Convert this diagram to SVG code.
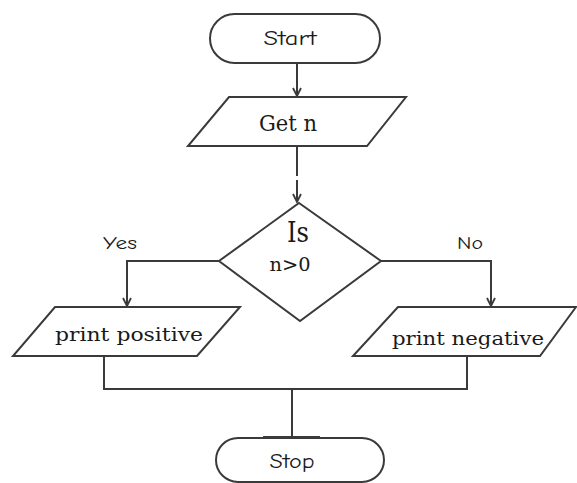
<svg xmlns="http://www.w3.org/2000/svg" width="577" height="483" viewBox="0 0 577 483">
  <style>
    .shape { fill: #ffffff; stroke: #3a3a3a; stroke-width: 2; }
    .wire { fill: none; stroke: #3a3a3a; stroke-width: 2; }
    .hand { font-family: "Comic Neue", "DejaVu Sans", "Noto Sans", sans-serif; fill: #1a1a1a; text-anchor: middle; }
    .book { font-family: "DejaVu Serif", "Liberation Serif", serif; fill: #1a1a1a; text-anchor: middle; }
  </style>
  <defs>
    <marker id="arrow" viewBox="0 0 10 10" refX="9" refY="5" markerWidth="10" markerHeight="10" markerUnits="userSpaceOnUse" orient="auto">
      <path d="M1,1 L9,5 L1,9" fill="none" stroke="#3a3a3a" stroke-width="1.8"/>
    </marker>
  </defs>

  <rect width="577" height="483" fill="#ffffff"/>

  <g id="connectors">
    <line class="wire" x1="297" y1="63" x2="297" y2="96" marker-end="url(#arrow)"/>
    <line class="wire" x1="297" y1="146" x2="297" y2="176"/>
    <line class="wire" x1="297" y1="180" x2="297" y2="202" marker-end="url(#arrow)"/>
    <polyline class="wire" points="219,261 127,261 127,306" marker-end="url(#arrow)"/>
    <polyline class="wire" points="381,261 491,261 491,306" marker-end="url(#arrow)"/>
    <polyline class="wire" points="104,356 104,389 467,389 467,356"/>
    <line class="wire" x1="292" y1="389" x2="292" y2="438"/>
    <line class="wire" x1="263" y1="437" x2="320" y2="437" stroke-width="3"/>
  </g>

  <g id="label-yes">
    <text class="hand" x="120" y="249" font-size="17" textLength="34" lengthAdjust="spacingAndGlyphs">Yes</text>
  </g>
  <g id="label-no">
    <text class="hand" x="470" y="249" font-size="17" textLength="26" lengthAdjust="spacingAndGlyphs">No</text>
  </g>

  <g id="start">
    <rect class="shape" x="210" y="14" width="170" height="49" rx="24.5" ry="24.5"/>
    <text class="hand" x="290" y="45" font-size="20" textLength="53" lengthAdjust="spacingAndGlyphs">Start</text>
  </g>

  <g id="get-n">
    <polygon class="shape" points="229,97 406,97 367,146 188,146"/>
    <text class="book" x="288" y="131" font-size="23" textLength="58" lengthAdjust="spacingAndGlyphs">Get n</text>
  </g>

  <g id="decision">
    <polygon class="shape" points="299,203 381,261 300,321 219,261"/>
    <text class="book" x="298" y="242" font-size="27" textLength="22" lengthAdjust="spacingAndGlyphs">Is</text>
    <text class="book" x="290" y="271" font-size="18" textLength="41" lengthAdjust="spacingAndGlyphs">n&gt;0</text>
  </g>

  <g id="print-positive">
    <polygon class="shape" points="55,307 240,307 197,356 13,356"/>
    <text class="book" x="129" y="341" font-size="19" textLength="148" lengthAdjust="spacingAndGlyphs">print positive</text>
  </g>

  <g id="print-negative">
    <polygon class="shape" points="398,307 576,307 540,356 353,356"/>
    <text class="book" x="468" y="345" font-size="19" textLength="152" lengthAdjust="spacingAndGlyphs">print negative</text>
  </g>

  <g id="stop">
    <rect class="shape" x="216" y="438" width="168" height="44" rx="22" ry="22"/>
    <text class="hand" x="292" y="468" font-size="21" textLength="45" lengthAdjust="spacingAndGlyphs">Stop</text>
  </g>
</svg>
